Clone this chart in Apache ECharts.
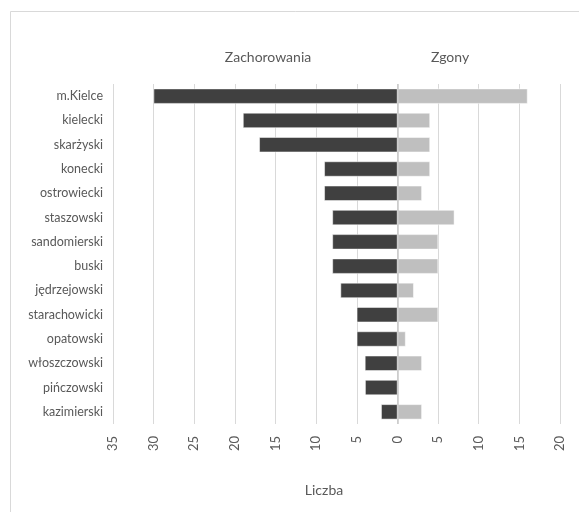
<!DOCTYPE html>
<html>
<head>
<meta charset="utf-8">
<script src="https://cdn.jsdelivr.net/npm/echarts@6/dist/echarts.min.js"></script>
<style>html,body{margin:0;padding:0;background:#fff}#c{width:579px;height:512px}</style>
</head>
<body>
<div id="c"></div>
<script>
const categories = ['m.Kielce','kielecki','skarżyski','konecki','ostrowiecki','staszowski','sandomierski','buski','jędrzejowski','starachowicki','opatowski','włoszczowski','pińczowski','kazimierski'];
const zachorowania = [30, 19, 17, 9, 9, 8, 8, 8, 7, 5, 5, 4, 4, 2];
const zgony = [16, 4, 4, 4, 3, 7, 5, 5, 2, 5, 1, 3, 0, 3];
const seriesNames = ['Zachorowania', 'Zgony'];
const axisTitle = 'Liczba';

const FONT = 'Lato';
const TXT = '#595959';
const chart = echarts.init(document.getElementById('c'), null, {renderer: 'canvas'});
chart.setOption({
  animation: false,
  backgroundColor: '#fff',
  grid: {left: 113, right: 19, top: 84, bottom: 88, containLabel: false},
  graphic: [
    {type: 'rect', shape: {x: 10.5, y: 11.5, width: 620, height: 560}, style: {fill: 'none', stroke: '#d9d9d9', lineWidth: 1}, silent: true, z: -1},
    {type: 'text', x: 268, y: 57, style: {text: seriesNames[0], fill: TXT, font: '14px "' + FONT + '"', textAlign: 'center', textVerticalAlign: 'middle'}},
    {type: 'text', x: 450, y: 57, style: {text: seriesNames[1], fill: TXT, font: '14px "' + FONT + '"', textAlign: 'center', textVerticalAlign: 'middle'}},
    {type: 'text', x: 324, y: 490, style: {text: axisTitle, fill: TXT, font: '14px "' + FONT + '"', textAlign: 'center', textVerticalAlign: 'middle'}}
  ],
  xAxis: {
    type: 'value', min: -35, max: 20, interval: 5,
    axisLine: {show: false}, axisTick: {show: false},
    axisLabel: {rotate: 90, margin: 12, color: TXT, fontFamily: FONT, fontSize: 13, formatter: v => String(Math.abs(v))},
    splitLine: {show: true, lineStyle: {color: '#d9d9d9', width: 1}}
  },
  yAxis: {
    type: 'category', data: categories, inverse: true,
    axisLine: {show: false}, axisTick: {show: false},
    axisLabel: {margin: 10, color: TXT, fontFamily: FONT, fontSize: 12.5}
  },
  series: [
    {
      name: seriesNames[0], type: 'bar', stack: 'total',
      data: zachorowania.map(v => -v), barWidth: 15,
      itemStyle: {color: '#404040', borderColor: '#ffffff', borderWidth: 0.5}
    },
    {
      name: seriesNames[1], type: 'bar', stack: 'total',
      data: zgony, barWidth: 15,
      itemStyle: {color: '#bfbfbf', borderColor: '#ffffff', borderWidth: 0.5},
      markLine: {
        silent: true, symbol: 'none', label: {show: false},
        lineStyle: {color: '#c8c8c8', type: 'solid', width: 1.5},
        data: [{xAxis: 0}]
      }
    }
  ]
});
</script>
</body>
</html>
